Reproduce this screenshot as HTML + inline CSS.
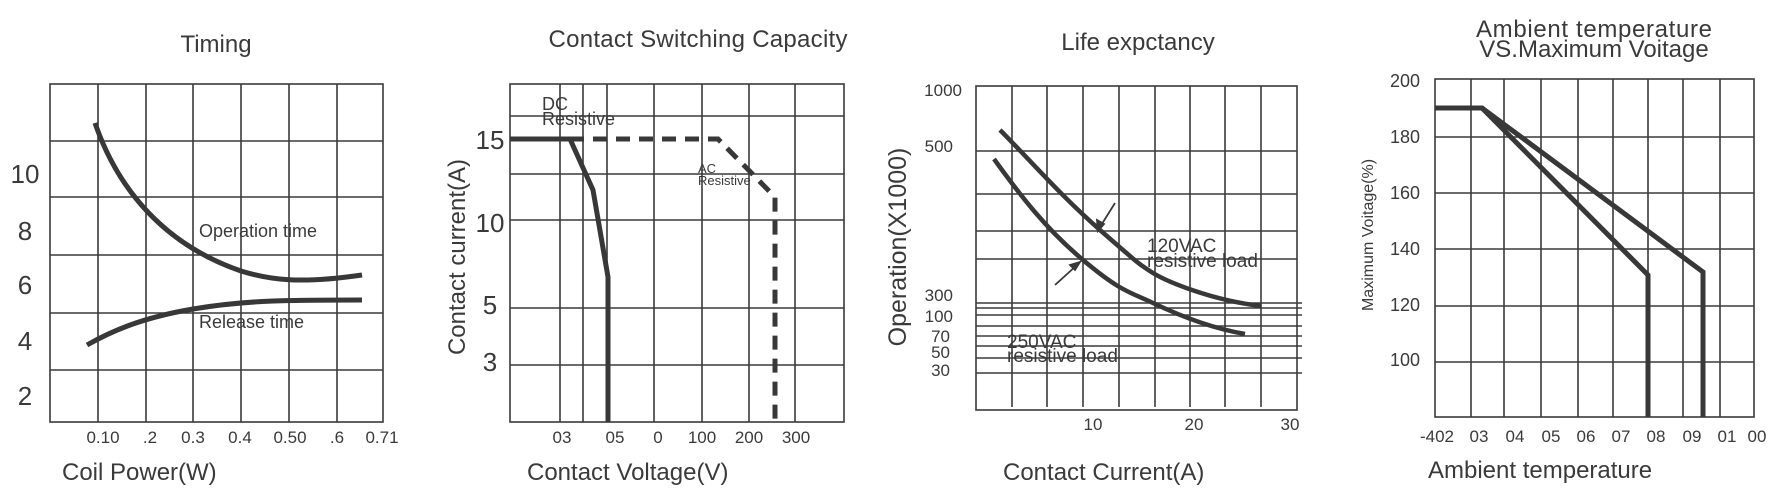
<!DOCTYPE html>
<html><head><meta charset="utf-8"><style>
html,body{margin:0;padding:0;background:#fff;}
svg{display:block;}
text{font-family:"Liberation Sans",sans-serif;fill:#3a3a3a;}
</style></head><body>
<svg width="1785" height="504" viewBox="0 0 1785 504" xmlns="http://www.w3.org/2000/svg">
<g stroke="#3a3a3a" stroke-width="1.6" fill="none">
<rect x="50" y="84" width="333" height="338"/>
<path d="M98 84V422M146 84V422M193 84V422M241 84V422M289 84V422M337 84V422M50 141H383M50 197H383M50 255H383M50 313H383M50 370H383"/>
<rect x="510" y="84" width="334" height="338"/>
<path d="M560 84V422M583 84V422M607 84V422M654 84V422M702 84V422M749 84V422M795 84V422M510 116H844M510 174H844M510 220H844M510 308H844M510 365H844"/>
<rect x="976" y="86" width="321" height="324"/>
<path d="M1012 86V407M1047 86V407M1083 86V407M1119 86V407M1155 86V407M1190 86V407M1225 86V407M1261 86V407M976 151H1297M976 194H1297M976 231H1297M976 259H1297M976 303H1302M976 308H1302M976 315H1302M976 326H1302M976 336H1302M976 346H1302M976 358H1302M976 373H1302"/>
<rect x="1435" y="79" width="319" height="338"/>
<path d="M1471 79V417M1504 79V417M1541 79V417M1578 79V417M1613 79V417M1648 79V417M1683 79V417M1720 79V417M1435 137H1754M1435 193H1754M1435 249H1754M1435 306H1754M1435 362H1754"/>
</g>
<g stroke="#383838" stroke-width="5" fill="none" stroke-linejoin="miter">
<path d="M95 123 C118 190,165 245,241 271 C270 280,300 284,362 275"/>
<path d="M87 345 C110 332,140 318,193 309 S290 300,362 300"/>
<path d="M510 139H570L593 190L608 277V422"/>
<path d="M570 139H718L775 197V422" stroke-dasharray="14 9"/>
<path d="M1000 130 C1030 160,1060 195,1100 230 S1140 265,1153 273 S1210 300,1261 306" stroke-width="4.5"/>
<path d="M994 159 C1020 195,1045 228,1083 260 S1130 292,1153 303 S1210 328,1245 334" stroke-width="4.5"/>
<path d="M1435 108H1482L1648 275V417"/>
<path d="M1482 108L1703 272V417"/>
</g>
<g stroke="#383838" stroke-width="1.8" fill="#383838">
<path d="M1115 203L1100 227"/><path d="M1098 231l-1-11 7 4z"/>
<path d="M1055 285L1077 265"/><path d="M1080 262l-10 3 5 5z"/>
</g>
<text x="216" y="52" font-size="24" text-anchor="middle">Timing</text>
<text x="698" y="47" font-size="24" text-anchor="middle" textLength="299">Contact Switching Capacity</text>
<text x="1138" y="50" font-size="24" text-anchor="middle">Life expctancy</text>
<text x="1594" y="37" font-size="24" text-anchor="middle" textLength="236">Ambient temperature</text>
<text x="1594" y="57" font-size="24" text-anchor="middle">VS.Maximum Voitage</text>
<g font-size="26" text-anchor="middle">
<text x="25" y="183">10</text><text x="25" y="240">8</text><text x="25" y="294">6</text><text x="25" y="350">4</text><text x="25" y="405">2</text>
</g>
<g font-size="17" text-anchor="middle">
<text x="103" y="443">0.10</text><text x="150" y="443">.2</text><text x="193" y="443">0.3</text><text x="240" y="443">0.4</text><text x="290" y="443">0.50</text><text x="337" y="443">.6</text><text x="382" y="443">0.71</text>
</g>
<text x="62" y="480" font-size="24">Coil Power(W)</text>
<text x="199" y="237" font-size="18">Operation time</text>
<text x="199" y="328" font-size="18">Release time</text>
<g font-size="26" text-anchor="middle">
<text x="490" y="149">15</text><text x="490" y="232">10</text><text x="490" y="314">5</text><text x="490" y="371">3</text>
</g>
<text transform="translate(465,257) rotate(-90)" font-size="24" text-anchor="middle">Contact current(A)</text>
<g font-size="17" text-anchor="middle">
<text x="562" y="443">03</text><text x="615" y="443">05</text><text x="658" y="443">0</text><text x="702" y="443">100</text><text x="749" y="443">200</text><text x="796" y="443">300</text>
</g>
<text x="527" y="480" font-size="24">Contact Voltage(V)</text>
<text x="542" y="110" font-size="18">DC</text>
<text x="542" y="125" font-size="18">Resistive</text>
<text x="698" y="173" font-size="13">AC</text>
<text x="698" y="185" font-size="13">Resistive</text>
<g font-size="17" text-anchor="end">
<text x="962" y="96">1000</text><text x="953" y="152">500</text><text x="953" y="301">300</text><text x="953" y="322">100</text><text x="950" y="342">70</text><text x="950" y="358">50</text><text x="950" y="376">30</text>
</g>
<text transform="translate(906,247) rotate(-90)" font-size="25" text-anchor="middle">Operation(X1000)</text>
<g font-size="17" text-anchor="middle">
<text x="1093" y="430">10</text><text x="1194" y="430">20</text><text x="1290" y="430">30</text>
</g>
<text x="1003" y="480" font-size="24">Contact Current(A)</text>
<text x="1147" y="252" font-size="19">120VAC</text>
<text x="1147" y="267" font-size="19">resistive load</text>
<text x="1007" y="348" font-size="19">250VAC</text>
<text x="1007" y="362" font-size="19">resistive load</text>
<g font-size="18" text-anchor="end">
<text x="1420" y="87">200</text><text x="1420" y="143">180</text><text x="1420" y="199">160</text><text x="1420" y="255">140</text><text x="1420" y="311">120</text><text x="1420" y="366">100</text>
</g>
<text transform="translate(1373,235) rotate(-90)" font-size="16" text-anchor="middle">Maximum Voitage(%)</text>
<g font-size="17" text-anchor="middle">
<text x="1437" y="442">-402</text><text x="1479" y="442">03</text><text x="1515" y="442">04</text><text x="1551" y="442">05</text><text x="1586" y="442">06</text><text x="1621" y="442">07</text><text x="1656" y="442">08</text><text x="1692" y="442">09</text><text x="1727" y="442">01</text><text x="1757" y="442">00</text>
</g>
<text x="1428" y="478" font-size="24">Ambient temperature</text>
</svg>
</body></html>
